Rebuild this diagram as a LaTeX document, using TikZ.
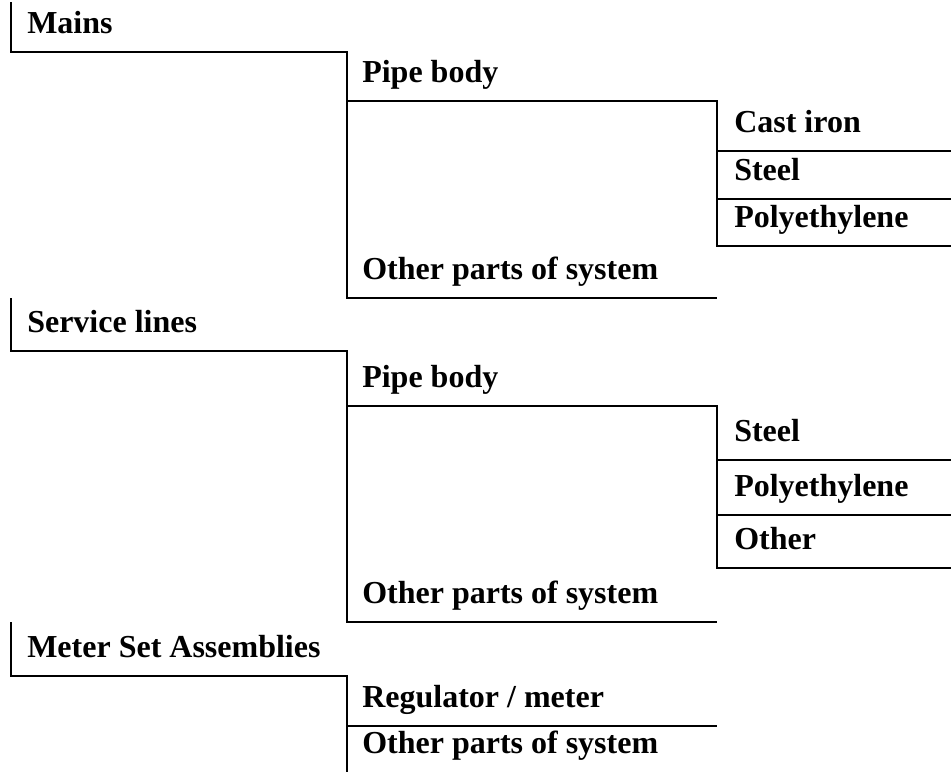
\documentclass[tikz,border=0pt]{standalone}
\usepackage{fontspec}
\setmainfont{Liberation Serif}
\begin{document}
\begin{tikzpicture}[x=0.75pt,y=-0.75pt,
  lbl/.style={anchor=base west, inner sep=0pt, font=\fontsize{24}{28}\selectfont\bfseries},
  border/.style={line width=1.5pt, line join=miter}]
\useasboundingbox (0,0) rectangle (951,772);
% level x positions
\def\xa{11}\def\xb{347}\def\xc{717}\def\xd{951}
% --- Mains group
\node[lbl] (mains) at (27,33) {Mains};
\node[lbl] (pb1) at (362,82) {Pipe body};
\node[lbl] (ci1) at (734,132) {Cast iron};
\node[lbl] (st1) at (734,180) {Steel};
\node[lbl] (pe1) at (734,227) {Polyethylene};
\node[lbl] (op1) at (362,279) {Other parts of system};
% --- Service lines group
\node[lbl] (serv) at (27,332) {Service lines};
\node[lbl] (pb2) at (362,387) {Pipe body};
\node[lbl] (st2) at (734,441) {Steel};
\node[lbl] (pe2) at (734,496) {Polyethylene};
\node[lbl] (ot2) at (734,549) {Other};
\node[lbl] (op2) at (362,603) {Other parts of system};
% --- Meter set group
\node[lbl] (msa) at (27,657) {Meter Set Assemblies};
\node[lbl] (reg) at (362,707) {Regulator / meter};
\node[lbl] (op3) at (362,753) {Other parts of system};
% borders
\draw[border] (\xa,2) -- (\xa,52) -- (\xb,52) -- (\xb,101) -- (\xc,101) -- (\xc,246) -- (\xd,246);
\draw[border] (\xc,151) -- (\xd,151);
\draw[border] (\xc,199) -- (\xd,199);
\draw[border] (\xb,101) -- (\xb,298) -- (\xc,298);
\draw[border] (\xa,298) -- (\xa,351) -- (\xb,351) -- (\xb,406) -- (\xc,406) -- (\xc,568) -- (\xd,568);
\draw[border] (\xc,460) -- (\xd,460);
\draw[border] (\xc,515) -- (\xd,515);
\draw[border] (\xb,406) -- (\xb,622) -- (\xc,622);
\draw[border] (\xa,622) -- (\xa,676) -- (\xb,676) -- (\xb,772);
\draw[border] (\xb,726) -- (\xc,726);
\end{tikzpicture}
\end{document}
